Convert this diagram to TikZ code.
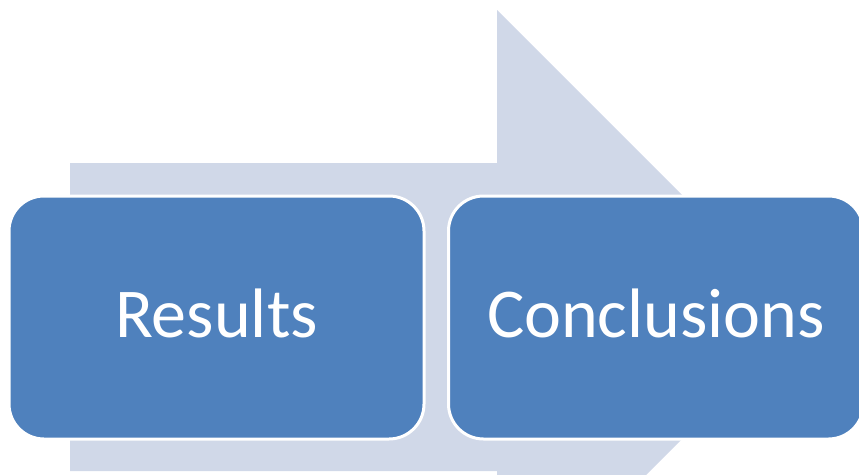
\documentclass[tikz,border=0pt]{standalone}
\usepackage{fontspec}
\newfontfamily\boxfont{Carlito}
\definecolor{arrowgrey}{HTML}{D0D8E8}
\definecolor{boxblue}{HTML}{4F81BD}
\tikzset{
  stagebox/.style={draw=white,line width=3pt,fill=boxblue,rounded corners=35pt,
    minimum width=415pt,minimum height=243pt,inner sep=0pt,text depth=8pt,
    text=white,font=\boxfont\fontsize{70}{80}\selectfont}
}
\begin{document}
\begin{tikzpicture}[x=1pt,y=-1pt]
   \clip (0,0) rectangle (859,474);
   \fill [arrowgrey] (70,163) -- (497,163) -- (497,10) -- (804,317) -- (497,624) -- (497,471) -- (70,471) -- cycle;
   \node [stagebox] (results) at (216.5,317.5) {Results};
   \node [stagebox] (conclusions) at (656,317.5) {Conclusions};
  \end{tikzpicture}
\end{document}
